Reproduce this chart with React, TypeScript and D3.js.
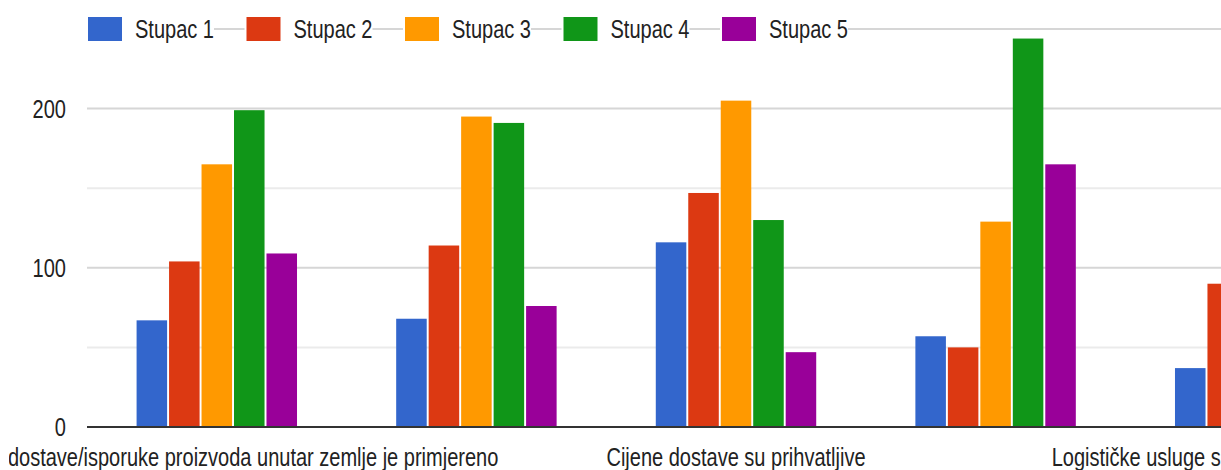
import * as d3 from "d3";

const W = 1221;
const H = 470;

const categories = [
  "Vrijeme dostave/isporuke proizvoda unutar zemlje je primjereno",
  "Dostava proizvoda je brza",
  "Cijene dostave su prihvatljive",
  "Proizvodi stižu neoštećeni",
  "Logističke usluge su zadovoljavajuće kvalitete",
];

const seriesNames = ["Stupac 1", "Stupac 2", "Stupac 3", "Stupac 4", "Stupac 5"];

const stupac1 = [67, 68, 116, 57, 37];
const stupac2 = [104, 114, 147, 50, 90];
const stupac3 = [165, 195, 205, 129, 150];
const stupac4 = [199, 191, 130, 244, 180];
const stupac5 = [109, 76, 47, 165, 120];

const labeledTicks = [0, 100, 200];
const majorGrid = [100, 200, 250];
const minorGrid = [50, 150];

const COLORS = ["#3366cc", "#dc3912", "#ff9900", "#109618", "#990099"];
const FONT = "'Liberation Sans', Arial, sans-serif";

const seriesValues = [stupac1, stupac2, stupac3, stupac4, stupac5];

// source image is stretched vertically, so text is squeezed horizontally
const squeeze = (x: number, y: number) => `translate(${x},${y}) scale(0.77,1)`;

export default function App() {
  const left = 87;
  const step = 259.6;

  const x0 = d3
    .scaleBand<string>()
    .domain(categories)
    .range([left, left + step * categories.length])
    .paddingInner(0.382)
    .paddingOuter(0.191);

  const x1 = d3
    .scaleBand<string>()
    .domain(seriesNames)
    .range([0, x0.bandwidth()])
    .paddingInner(0.06);

  const y = d3.scaleLinear().domain([0, 250]).range([427, 29]);

  return (
    <>
      <style>{`body{margin:0}`}</style>
      <svg width={W} height={H} style={{ display: "block", background: "#fff" }} fontFamily={FONT}>
        <defs>
          <clipPath id="labelClip">
            <rect x={9} y={430} width={W - 9} height={40} />
          </clipPath>
        </defs>

        {minorGrid.map((t) => (
          <line key={"m" + t} x1={left} x2={W} y1={y(t)} y2={y(t)} stroke="#ebebeb" strokeWidth={2} />
        ))}
        {majorGrid.map((t) => (
          <line key={"g" + t} x1={left} x2={W} y1={y(t)} y2={y(t)} stroke="#d6d6d6" strokeWidth={2} />
        ))}

        {categories.map((c, ci) => (
          <g key={c} transform={`translate(${x0(c)},0)`}>
            {seriesNames.map((s, si) => {
              const v = seriesValues[si][ci];
              return (
                <rect
                  key={s}
                  x={x1(s)}
                  y={y(v)}
                  width={x1.bandwidth()}
                  height={y(0) - y(v)}
                  fill={COLORS[si]}
                />
              );
            })}
          </g>
        ))}

        <line x1={left} x2={W} y1={y(0)} y2={y(0)} stroke="#333" strokeWidth={2} />

        {labeledTicks.map((t) => (
          <text
            key={t}
            transform={squeeze(66, y(t) + 9)}
            textAnchor="end"
            fontSize={26}
            fill="#222"
          >
            {t}
          </text>
        ))}

        <g clipPath="url(#labelClip)">
          {categories.map((c, ci) =>
            ci % 2 === 0 ? (
              <text
                key={c}
                transform={squeeze((x0(c) ?? 0) + x0.bandwidth() / 2, 466)}
                textAnchor="middle"
                fontSize={26}
                fill="#222"
              >
                {c}
              </text>
            ) : null
          )}
        </g>

        {seriesNames.map((s, i) => {
          const lx = 88 + i * 158.5;
          return (
            <g key={s}>
              <rect x={lx - 2} y={14} width={128} height={30} fill="#fff" />
              <rect x={lx} y={17} width={34} height={24} fill={COLORS[i]} />
              <text transform={squeeze(lx + 47, 38)} fontSize={26} fill="#222">
                {s}
              </text>
            </g>
          );
        })}
      </svg>
    </>
  );
}
